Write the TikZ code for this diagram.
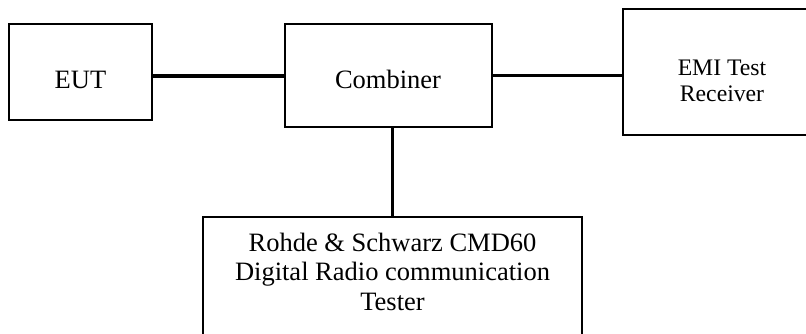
\documentclass[tikz,border=0pt]{standalone}
\usepackage{fontspec}
\setmainfont{Liberation Serif}
\begin{document}
\begin{tikzpicture}[x=1pt,y=-1pt,
  box/.style={draw=black,line width=1.8pt,rectangle,inner sep=0pt},
  conn/.style={draw=black,line width=3.3pt},
  lbl/.style={anchor=base,inner sep=0pt,align=center,font=\fontsize{26.5}{29.5}\selectfont},
  lbls/.style={anchor=base,inner sep=0pt,align=center,font=\fontsize{23.7}{25.5}\selectfont}]
\useasboundingbox (0,0) rectangle (806,333);
\clip (0,0) rectangle (806,333);
\node[box,minimum width=143pt,minimum height=96pt] (eut) at (80.5,72) {};
\node[box,minimum width=207pt,minimum height=103pt] (comb) at (388.5,75.5) {};
\node[box,minimum width=198pt,minimum height=126pt] (emi) at (722,72) {};
\node[box,minimum width=379pt,minimum height=143pt] (rs) at (392.5,288.5) {};
\node[lbl] (eutT) at (80.5,88) {EUT};
\node[lbl] (combT) at (388,88) {Combiner};
\node[lbls] (emiT) at (722,101) {EMI Test\\Receiver};
\node[lbl] (rsT) at (392.5,310) {Rohde \& Schwarz CMD60\\Digital Radio communication\\Tester};
\draw[conn] ([yshift=-4pt]eut.east) -- ([yshift=-4pt]eut.east -| comb.west);
\draw[conn] (comb.east) -- (comb.east -| emi.west);
\draw[conn] (rs.north) -- (rs.north |- comb.south);
\end{tikzpicture}
\end{document}
